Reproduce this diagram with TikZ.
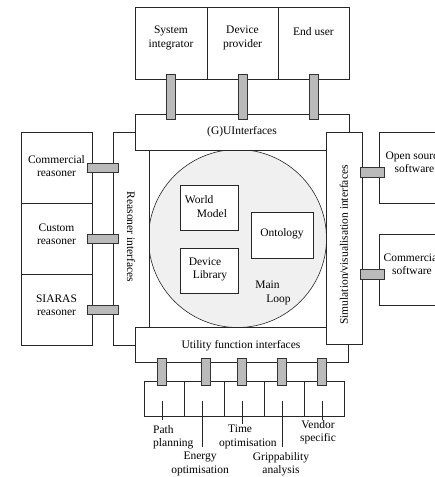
\documentclass[tikz,border=0pt]{standalone}
\usepackage{fontspec}
\setmainfont{Liberation Serif}
\usetikzlibrary{calc}
\begin{document}
\begin{tikzpicture}[x=1pt,y=-1pt,
  box/.style={draw=black!85, line width=0.7pt, fill=white, inner sep=0pt, outer sep=0pt, anchor=north west},
  bar/.style={draw=black!80, line width=0.6pt, fill=black!27},
  lbl/.style={font=\fontsize{11.5}{13.5}\selectfont, align=center, inner sep=0pt},
  tickline/.style={draw=black!85, line width=0.6pt}]
\newcommand\rbox[5]{\node[box, minimum width={(#4)-(#2)}, minimum height={(#5)-(#3)}] (#1) at (#2,#3) {};}
\useasboundingbox (0,0) rectangle (435,477);
\clip (0,0) rectangle (435,477);
% top boxes
\rbox{sys}{135}{7}{207}{79}
\rbox{dev}{207}{7}{278}{79}
\rbox{end}{278}{7}{349}{79}
\node[lbl] (tsys) at (171,38) {System\\integrator};
\node[lbl] (tdev) at (242.5,38) {Device\\provider};
\node[lbl] (tend) at (313.5,32) {End user};
% left boxes
\rbox{com}{21}{132}{92}{203}
\rbox{cus}{21}{203}{92}{274}
\rbox{sia}{21}{274}{92}{345}
\node[lbl] (tcom) at (56.5,166) {Commercial\\reasoner};
\node[lbl] (tcus) at (56.5,234) {Custom\\reasoner};
\node[lbl] (tsia) at (56.5,305) {SIARAS\\reasoner};
% right boxes
\rbox{os}{379}{132}{450}{203}
\rbox{cs}{379}{234}{450}{305}
\node[lbl] (tos) at (414.5,162) {Open source\\software};
\node[lbl] (tcs) at (412,264) {Commercial\\software};
% main loop circle
\node[circle, draw=black!85, line width=0.6pt, fill=black!6, minimum size=178pt, inner sep=0pt] (loop) at (237.5,238.5) {};
% interface frames
\rbox{rea}{113}{132}{149}{345}
\node[lbl, rotate=-90] (trea) at (131,237) {Reasoner interfaces};
\rbox{gui}{135}{114}{349}{150}
\node[lbl] (tgui) at (242,132) {(G)UInterfaces};
\rbox{util}{135}{327}{348}{362}
\node[lbl] (tutil) at (241,346) {Utility function interfaces};
\rbox{sim}{326}{132}{362}{344}
\node[lbl, rotate=90] (tsim) at (344,245) {Simulation/visualisation interfaces};
% inner boxes
\rbox{wm}{180}{185}{238}{230}
\rbox{dl}{180}{248}{238}{293}
\rbox{ont}{251}{212}{313}{258}
\node[lbl, align=left] (twm) at (206,206.5) {World\\\hspace*{12pt}Model};
\node[lbl, align=left] (tdl) at (208,269.5) {Device\\\hspace*{4pt}Library};
\node[lbl] (tont) at (282,234) {Ontology};
\node[lbl, align=left] (tml) at (273,293) {Main\\\hspace*{11pt}Loop};
% bottom boxes
\rbox{b1}{144}{381}{184}{416}
\rbox{b2}{184}{381}{224}{416}
\rbox{b3}{224}{381}{264}{416}
\rbox{b4}{264}{381}{304}{416}
\rbox{b5}{304}{381}{344}{416}
% connectors top
\foreach \n in {sys,dev,end}
  \draw[bar] ($(\n.south)+(-4.5,-5)$) rectangle ($(\n.south |- gui.north)+(4.5,5)$);
% connectors left
\foreach \n in {com,cus,sia}
  \draw[bar] ($(\n.east)+(-5,-4.5)$) rectangle ($(\n.east -| rea.west)+(5,4.5)$);
% connectors right
\foreach \n in {os,cs}
  \draw[bar] ($(sim.east |- \n.west)+(-2,0)$) rectangle ($(\n.west)+(5,9.5)$);
% connectors bottom
\foreach \n/\d in {b1/-2,b2/2,b3/-2,b4/-2,b5/-2}
  \draw[bar] ($(util.south -| \n.north)+(\d-4.5,-4)$) rectangle ($(\n.north)+(\d+4.5,4)$);
% labels below
\node[lbl, align=left, anchor=west] (lpp) at (153,437) {Path\\planning};
\node[lbl] (leo) at (200,464) {Energy\\optimisation};
\node[lbl, align=left, anchor=west] (lto) at (219,437) {\hspace*{9pt}Time\\optimisation};
\node[lbl] (lga) at (281,464) {Grippability\\analysis};
\node[lbl] (lvs) at (318,432) {Vendor\\specific};
\coordinate (e1) at (162,420);
\coordinate (e2) at (202,447);
\coordinate (e3) at (242,424);
\coordinate (e4) at (282,447);
\coordinate (e5) at (322,420);
\draw[tickline] ($(b1.north)+(-2,20)$) -- (e1);
\draw[tickline] ($(b2.north)+(-2,20)$) -- (e2);
\draw[tickline] ($(b3.north)+(-2,20)$) -- (e3);
\draw[tickline] ($(b4.north)+(-2,20)$) -- (e4);
\draw[tickline] ($(b5.north)+(-2,20)$) -- (e5);
\end{tikzpicture}
\end{document}
